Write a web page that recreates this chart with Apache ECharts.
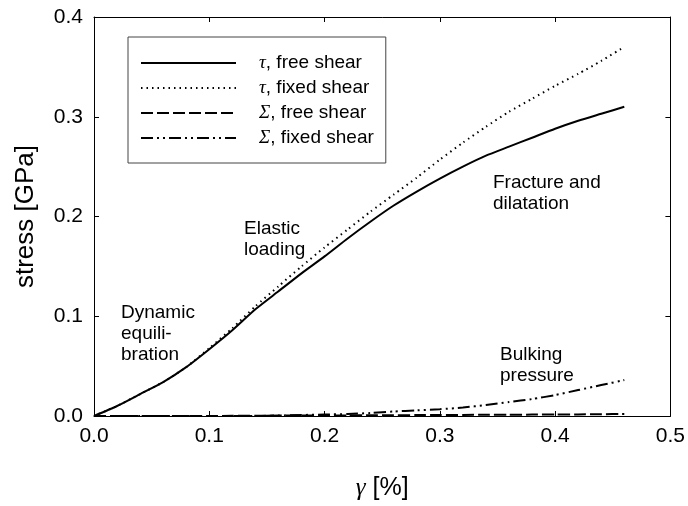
<!DOCTYPE html>
<html>
<head>
<meta charset="utf-8">
<script src="https://cdn.jsdelivr.net/npm/echarts@6/dist/echarts.min.js"></script>
<style>
  html, body { margin: 0; padding: 0; background: #fff; }
  #chart { width: 688px; height: 506px; }
</style>
</head>
<body>
<div id="chart"></div>
<script>
// strain values (shared by all four curves)
const gamma = [0, 0.02, 0.04, 0.06, 0.08, 0.10, 0.12, 0.14, 0.16, 0.18, 0.20, 0.22,
               0.24, 0.26, 0.28, 0.30, 0.32, 0.34, 0.36, 0.38, 0.40, 0.42, 0.44, 0.46]

const tauFree = [0, 0.010, 0.022, 0.034, 0.049, 0.067, 0.086, 0.107, 0.125, 0.143, 0.160, 0.178,
                 0.195, 0.211, 0.225, 0.238, 0.250, 0.261, 0.270, 0.279, 0.288, 0.296, 0.303, 0.310]
const tauFixed = [0, 0.010, 0.022, 0.034, 0.049, 0.068, 0.088, 0.110, 0.130, 0.150, 0.169, 0.187,
                  0.205, 0.222, 0.239, 0.257, 0.274, 0.290, 0.305, 0.318, 0.331, 0.343, 0.356, 0.370]
const sigmaFree = [0, 0, 0, 0, 0, 0, 0.0002, 0.0003, 0.0004, 0.0005, 0.0005, 0.0006,
                   0.0007, 0.0008, 0.0009, 0.0010, 0.0011, 0.0012, 0.0013, 0.0014, 0.0015, 0.0016, 0.0018, 0.0020]
const sigmaFixed = [0, 0, 0, 0, 0, 0, 0, 0, 0.0005, 0.0010, 0.0015, 0.0020,
                    0.0030, 0.0045, 0.0057, 0.0068, 0.0085, 0.011, 0.014, 0.017, 0.021, 0.026, 0.031, 0.036]

const seriesNames = ['τ, free shear', 'τ, fixed shear', 'Σ, free shear', 'Σ, fixed shear']
const xTicks = [0, 0.1, 0.2, 0.3, 0.4, 0.5]
const yTicks = [0, 0.1, 0.2, 0.3, 0.4]

const SANS = '"Liberation Sans", Arial, sans-serif'
const SERIF = '"Liberation Serif", "Times New Roman", serif'

function pairs(ys) {
  return gamma.map((g, i) => [g, ys[i]])
}

const chart = echarts.init(document.getElementById('chart'))

const lineBase = {
  type: 'line',
  showSymbol: false,
  symbol: 'none',
  silent: true,
  smooth: 0.2,
  color: '#000',
  itemStyle: { color: '#000' },
  xAxisIndex: 0,
  yAxisIndex: 0
}

const axisCommon = {
  type: 'value',
  splitLine: { show: false },
  axisLine: { show: true, onZero: false, lineStyle: { color: '#000', width: 1 } },
  axisTick: { show: true, inside: true, length: 5, lineStyle: { color: '#000' } }
}

chart.setOption({
  animation: false,
  backgroundColor: '#fff',
  grid: { left: 94, right: 17, top: 17, bottom: 84 },
  legend: {
    orient: 'vertical',
    left: 128,
    top: 37,
    padding: [16, 12, 15, 12],
    itemWidth: 95,
    itemHeight: 14,
    itemGap: 5,
    borderColor: '#444',
    borderWidth: 1,
    selectedMode: false,
    itemStyle: { opacity: 0 },
    data: seriesNames,
    formatter: n => '{g|' + n[0] + '}' + n.slice(1),
    textStyle: {
      fontFamily: SANS,
      fontSize: 19,
      lineHeight: 20,
      color: '#000',
      padding: [0, 0, 0, 18],
      rich: {
        g: { fontFamily: SERIF, fontStyle: 'italic', fontSize: 19, color: '#000' }
      }
    }
  },
  xAxis: [
    Object.assign({}, axisCommon, {
      position: 'bottom',
      min: 0, max: 0.5, interval: 0.1,
      axisLabel: {
        margin: 10, color: '#000', fontFamily: SANS, fontSize: 21,
        customValues: xTicks, formatter: v => v.toFixed(1)
      },
      name: '{g|γ} [%]',
      nameLocation: 'middle',
      nameGap: 60,
      nameTextStyle: {
        fontFamily: SANS, fontSize: 25, color: '#000',
        rich: { g: { fontFamily: SERIF, fontStyle: 'italic', fontSize: 25, color: '#000' } }
      }
    }),
    Object.assign({}, axisCommon, {
      position: 'top',
      min: 0, max: 0.5, interval: 0.1,
      axisLabel: { show: false }
    })
  ],
  yAxis: [
    Object.assign({}, axisCommon, {
      position: 'left',
      min: 0, max: 0.4, interval: 0.1,
      axisLabel: {
        margin: 11, color: '#000', fontFamily: SANS, fontSize: 21,
        customValues: yTicks, formatter: v => v.toFixed(1)
      },
      name: 'stress [GPa]',
      nameLocation: 'middle',
      nameGap: 55,
      nameTextStyle: { fontFamily: SANS, fontSize: 26, color: '#000' }
    }),
    Object.assign({}, axisCommon, {
      position: 'right',
      min: 0, max: 0.4, interval: 0.1,
      axisLabel: { show: false }
    })
  ],
  graphic: [
    { type: 'text', left: 121, top: 302, style: { text: 'Dynamic\nequili-\nbration', font: '19px ' + SANS, lineHeight: 21, fill: '#000' } },
    { type: 'text', left: 244, top: 218, style: { text: 'Elastic\nloading', font: '19px ' + SANS, lineHeight: 21, fill: '#000' } },
    { type: 'text', left: 493, top: 172, style: { text: 'Fracture and\ndilatation', font: '19px ' + SANS, lineHeight: 21, fill: '#000' } },
    { type: 'text', left: 500, top: 344, style: { text: 'Bulking\npressure', font: '19px ' + SANS, lineHeight: 21, fill: '#000' } }
  ],
  series: [
    Object.assign({}, lineBase, {
      name: seriesNames[0], data: pairs(tauFree), z: 4,
      lineStyle: { color: '#000', width: 2, type: 'solid' }
    }),
    Object.assign({}, lineBase, {
      name: seriesNames[1], data: pairs(tauFixed), z: 3,
      lineStyle: { color: '#000', width: 2, type: [1.5, 4] }
    }),
    Object.assign({}, lineBase, {
      name: seriesNames[2], data: pairs(sigmaFree), z: 3,
      lineStyle: { color: '#000', width: 2, type: [12, 4] }
    }),
    Object.assign({}, lineBase, {
      name: seriesNames[3], data: pairs(sigmaFixed), z: 3,
      lineStyle: { color: '#000', width: 2, type: [12, 4, 2, 4, 2, 4] }
    })
  ]
})
</script>
</body>
</html>
